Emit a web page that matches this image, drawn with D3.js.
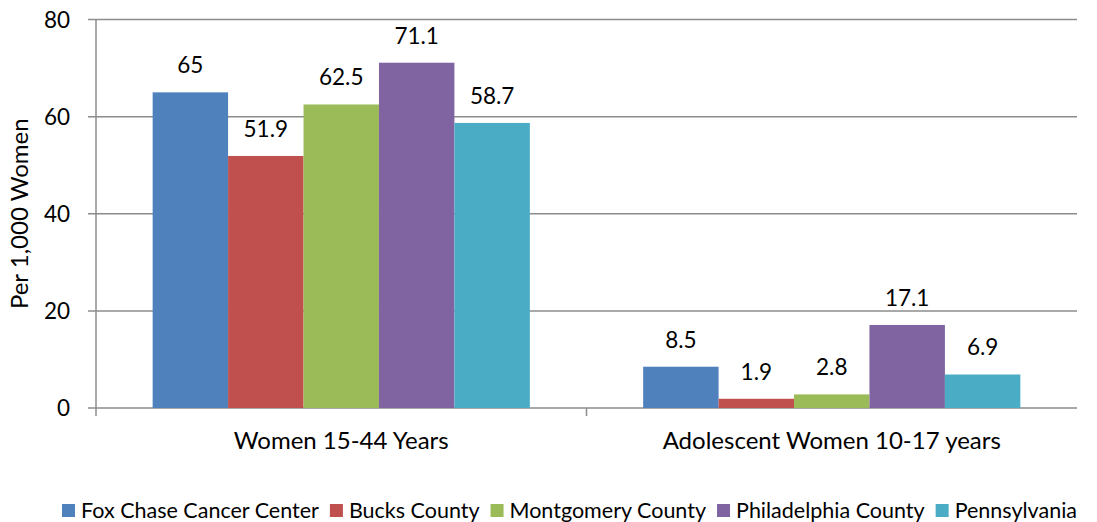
<!DOCTYPE html>
<html>
<head>
<meta charset="utf-8">
<script src="https://cdn.jsdelivr.net/npm/d3@7"></script>
<style>
  body { margin: 0; background: #fff; }
  text { font-family: Lato, "Open Sans", sans-serif; fill: #000; }
</style>
</head>
<body>
<svg id="chart" width="1097" height="522"></svg>
<script>
// chart data
var categories = ["Women 15-44 Years", "Adolescent Women 10-17 years"];
var seriesNames = ["Fox Chase Cancer Center", "Bucks County", "Montgomery County", "Philadelphia County", "Pennsylvania"];
var seriesColors = ["#4F81BD", "#C0504D", "#9BBB59", "#8064A2", "#4BACC6"];
var women1544 = [65, 51.9, 62.5, 71.1, 58.7];
var adolescent1017 = [8.5, 1.9, 2.8, 17.1, 6.9];
var yTicks = [0, 20, 40, 60, 80];

var values = [women1544, adolescent1017];

var margin = {top: 19.5, right: 20, bottom: 114, left: 96},
  width = 1097 - margin.left - margin.right,
  height = 522 - margin.top - margin.bottom;

var svg = d3.select("#chart")
  .append("g")
  .attr("transform", "translate(" + margin.left + "," + margin.top + ")");

var x0 = d3.scaleBand()
  .domain(categories)
  .range([0, width])
  .paddingInner(0)
  .paddingOuter(0);

// inner band covers the middle 77% of each category
var x1 = d3.scaleBand()
  .domain(seriesNames)
  .range([x0.bandwidth() * 0.1155, x0.bandwidth() * 0.8845]);

var y = d3.scaleLinear()
  .domain([0, 80])
  .range([height, 0]);

var gridColor = "#8c8c8c";

// gridlines
svg.append("g")
  .selectAll("line")
  .data(yTicks)
  .enter()
  .append("line")
  .attr("x1", -8)
  .attr("x2", width)
  .attr("y1", function (d) { return y(d); })
  .attr("y2", function (d) { return y(d); })
  .style("stroke", gridColor)
  .style("stroke-width", 1.5);

// y tick labels
svg.append("g")
  .selectAll("text")
  .data(yTicks)
  .enter()
  .append("text")
  .attr("x", -26)
  .attr("y", function (d) { return y(d); })
  .attr("dy", "0.36em")
  .attr("text-anchor", "end")
  .style("font-size", "22.5px")
  .text(function (d) { return d; });

// bars
var groups = svg.append("g")
  .selectAll("g")
  .data(categories)
  .enter()
  .append("g")
  .attr("transform", function (d) { return "translate(" + x0(d) + ",0)"; });

groups.selectAll("rect")
  .data(function (d, i) {
    return seriesNames.map(function (s, j) { return {name: s, value: values[i][j], color: seriesColors[j]}; });
  })
  .enter()
  .append("rect")
  .attr("x", function (d) { return x1(d.name); })
  .attr("width", x1.bandwidth())
  .attr("y", function (d) { return y(d.value); })
  .attr("height", function (d) { return height - y(d.value); })
  .style("fill", function (d) { return d.color; });

groups.selectAll("text")
  .data(function (d, i) {
    return seriesNames.map(function (s, j) { return {name: s, value: values[i][j]}; });
  })
  .enter()
  .append("text")
  .attr("x", function (d) { return x1(d.name) + x1.bandwidth() / 2; })
  .attr("y", function (d) { return y(d.value) - 19; })
  .attr("text-anchor", "middle")
  .style("font-size", "22.5px")
  .text(function (d) { return d.value; });

// axes lines
svg.append("line")
  .attr("x1", 0).attr("x2", 0)
  .attr("y1", 0).attr("y2", height + 8)
  .style("stroke", gridColor)
  .style("stroke-width", 1.5);

svg.append("line")
  .attr("x1", x0.bandwidth()).attr("x2", x0.bandwidth())
  .attr("y1", height).attr("y2", height + 8)
  .style("stroke", gridColor)
  .style("stroke-width", 1.5);

// category labels
svg.append("g")
  .selectAll("text")
  .data(categories)
  .enter()
  .append("text")
  .attr("x", function (d) { return x0(d) + x0.bandwidth() / 2; })
  .attr("y", height + 41)
  .attr("text-anchor", "middle")
  .style("font-size", "24px")
  .text(function (d) { return d; });

// y axis title
d3.select("#chart").append("text")
  .attr("transform", "translate(28," + (margin.top + height / 2) + ") rotate(-90)")
  .attr("text-anchor", "middle")
  .style("font-size", "24px")
  .text("Per 1,000 Women");

// legend: laid out in a row from x=62 to x=1077
var legendLeft = 62, legendRight = 1077, box = 13, boxGap = 6;
var legend = d3.select("#chart").append("g")
  .selectAll("g")
  .data(seriesNames)
  .enter()
  .append("g");

legend.append("rect")
  .attr("y", 504)
  .attr("width", box)
  .attr("height", box)
  .style("fill", function (d, i) { return seriesColors[i]; });

legend.append("text")
  .attr("x", box + boxGap)
  .attr("y", 517.5)
  .style("font-size", "21.5px")
  .text(function (d) { return d; });

var widths = [];
legend.selectAll("text").each(function () { widths.push(this.getComputedTextLength()); });
var used = d3.sum(widths) + seriesNames.length * (box + boxGap);
var gap = (legendRight - legendLeft - used) / (seriesNames.length - 1);
var cur = legendLeft;
legend.attr("transform", function (d, i) {
  var t = "translate(" + cur + ",0)";
  cur += box + boxGap + widths[i] + gap;
  return t;
});
</script>
</body>
</html>
